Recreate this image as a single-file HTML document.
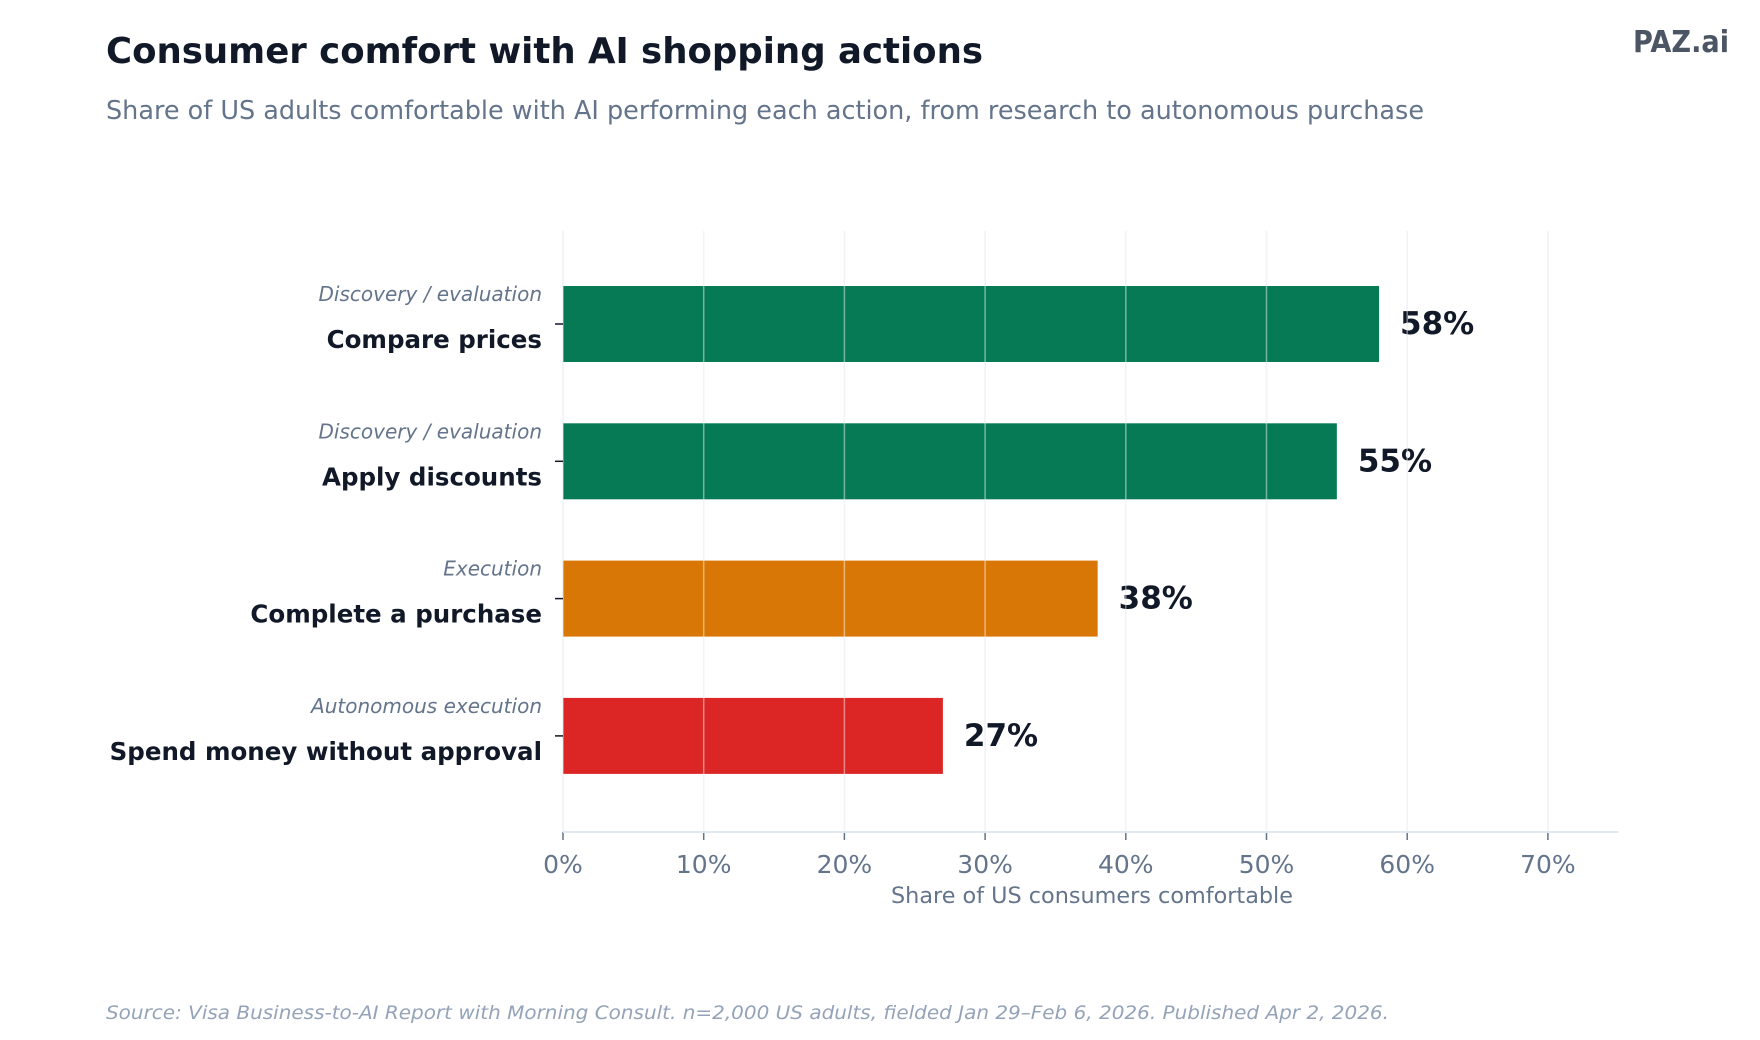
<!DOCTYPE html>
<html><head><meta charset="utf-8"><style>
html,body{margin:0;padding:0;background:#fff;}
svg{display:block;font-family:"DejaVu Sans","Liberation Sans",sans-serif;}
</style></head><body>
<svg id="c" width="1760" height="1040" viewBox="0 0 1760 1040">
<text x="106" y="63" font-size="36" font-weight="bold" fill="#111827" textLength="877" lengthAdjust="spacingAndGlyphs">Consumer comfort with AI shopping actions</text>
<text x="106" y="119" font-size="26" fill="#64748b" textLength="1318" lengthAdjust="spacingAndGlyphs">Share of US adults comfortable with AI performing each action, from research to autonomous purchase</text>
<text x="1633" y="52" font-size="30" font-weight="bold" fill="#4b5563" textLength="96" lengthAdjust="spacingAndGlyphs">PAZ.ai</text>
<g id="grid"></g>
<g id="bars"></g>
<g id="gridTop"></g>
<g id="xaxis"></g>
<g id="yaxis"></g>
<text x="1092" y="903" font-size="22" fill="#64748b" text-anchor="middle" textLength="402" lengthAdjust="spacingAndGlyphs">Share of US consumers comfortable</text>
<text x="106" y="1019" font-size="19" font-style="italic" fill="#94a3b8" textLength="1283" lengthAdjust="spacingAndGlyphs">Source: Visa Business-to-AI Report with Morning Consult. n=2,000 US adults, fielded Jan 29–Feb 6, 2026. Published Apr 2, 2026.</text>
</svg>
<script>
const categories = ["Compare prices","Apply discounts","Complete a purchase","Spend money without approval"];
const stages = ["Discovery / evaluation","Discovery / evaluation","Execution","Autonomous execution"];
const values = [58,55,38,27];
const barColors = ["#067a55","#067a55","#d97706","#dc2626"];
const ticks = [0,10,20,30,40,50,60,70];
const tickLabels = ["0%","10%","20%","30%","40%","50%","60%","70%"];

const NS="http://www.w3.org/2000/svg";
const x0=563, pxPer=14.07, xMax=75, plotTop=231, plotBottom=832;
const xs=v=>x0+v*pxPer;
const firstC=324, step=137.3, bh=76;
const yc=i=>firstC+i*step;
function mk(tag,attrs,parent,txt){const e=document.createElementNS(NS,tag);for(const k in attrs)e.setAttribute(k,attrs[k]);if(txt!=null)e.textContent=txt;parent.appendChild(e);return e;}
const grid=document.getElementById('grid'),gridTop=document.getElementById('gridTop'),bars=document.getElementById('bars'),xa=document.getElementById('xaxis'),ya=document.getElementById('yaxis');
ticks.forEach((t,i)=>{
  const g=mk('line',{x1:xs(t),x2:xs(t),y1:plotTop,y2:plotBottom,stroke:'#e5e9f0','stroke-width':1.5},grid);
  
  
  const g2=mk('line',{x1:xs(t),x2:xs(t),y1:plotTop,y2:plotBottom,stroke:'#ffffff','stroke-opacity':0.45,'stroke-width':1.5},gridTop);
  
  
  const tk=mk('line',{x1:xs(t),x2:xs(t),y1:plotBottom,y2:plotBottom+8,stroke:'#64748b','stroke-width':1.5},xa);
  
  
  const tl=mk('text',{x:xs(t),y:873,'font-size':25,fill:'#64748b','text-anchor':'middle'},xa,tickLabels[i]);
  
  
});
const al=mk('line',{x1:x0,x2:xs(xMax),y1:plotBottom,y2:plotBottom,stroke:'#e2e8f0','stroke-width':2},xa);


values.forEach((v,i)=>{
  const c=yc(i);
  const r=mk('rect',{x:x0,y:c-bh/2,width:xs(v)-x0,height:bh,fill:barColors[i]},bars);
  
  
  const vl=mk('text',{x:xs(v)+21,y:c+10,'font-size':31,'font-weight':'bold',fill:'#111827'},bars,v+'%');
  
  
  const tk=mk('line',{x1:555,x2:563,y1:c,y2:c,stroke:'#111827','stroke-width':1.5},ya);
  
  
  const s=mk('text',{x:542,y:c-23,'font-size':20,'font-style':'italic',fill:'#64748b','text-anchor':'end'},ya,stages[i]);
  
  
  const l=mk('text',{x:542,y:c+24,'font-size':24.5,'font-weight':'bold',fill:'#111827','text-anchor':'end'},ya,categories[i]);
  
  
});
</script>
</body></html>
